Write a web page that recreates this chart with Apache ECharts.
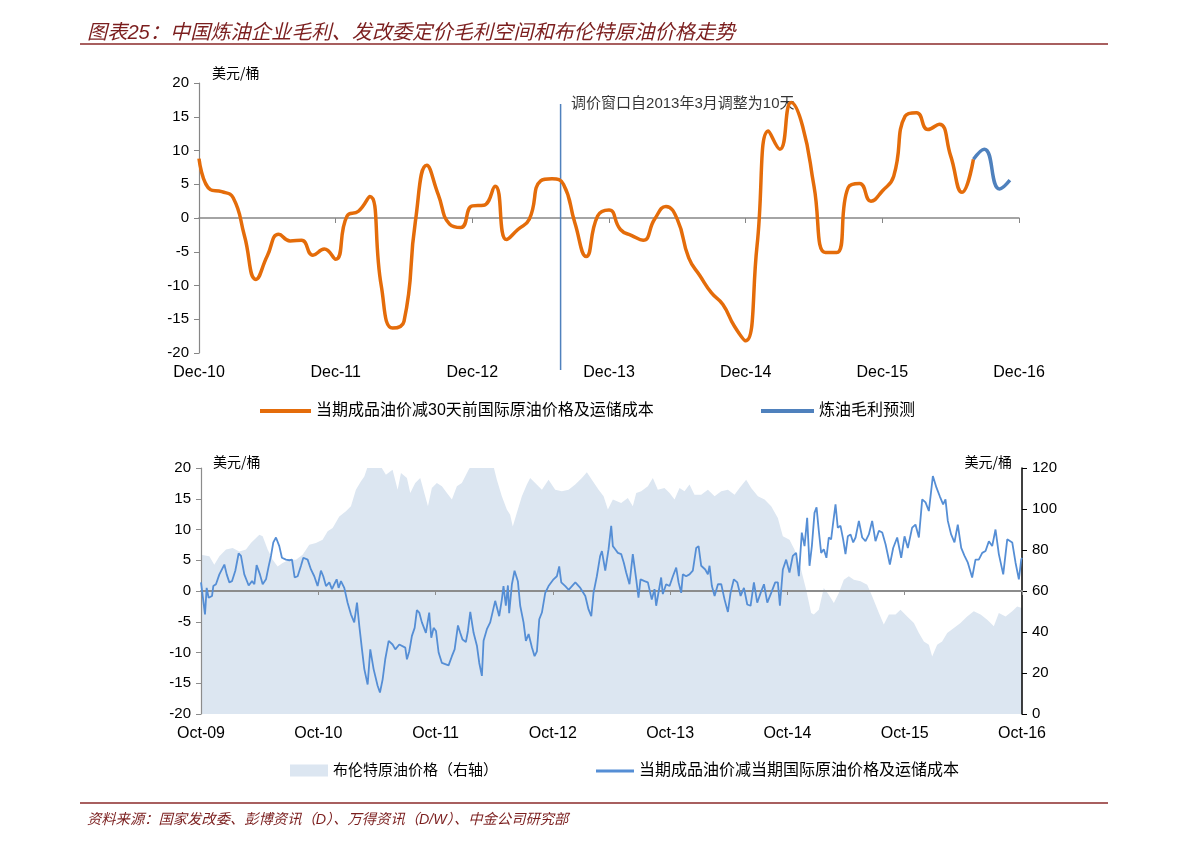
<!DOCTYPE html>
<html><head><meta charset="utf-8">
<script src="https://cdn.jsdelivr.net/npm/echarts@6/dist/echarts.min.js"></script>
<style>html,body{margin:0;padding:0;background:#fff}#c{width:1191px;height:845px}</style>
</head><body><div id="c"></div>
<script>
// ---------- data ----------
const titleText = '图表25：中国炼油企业毛利、发改委定价毛利空间和布伦特原油价格走势';
const sourceText = '资料来源：国家发改委、彭博资讯（D）、万得资讯（D/W）、中金公司研究部';

// top chart: months since Dec-10
const topTickLabels = ['Dec-10','Dec-11','Dec-12','Dec-13','Dec-14','Dec-15','Dec-16'];
const marginName = '当期成品油价减30天前国际原油价格及运储成本';
const marginValues = [8.8, 4.2, 3.9, 3.0, -2.7, -9.1, -5.6, -2.4, -3.4, -3.3, -5.5, -4.6, -6.1,
  0.3, 1.0, 3.2, -10.0, -16.3, -15.3, -0.5, 7.8, 3.5, -0.9, -1.4, 1.8,
  1.9, 4.7, -3.2, -1.7, -0.2, 5.5, 5.8, 5.0, -0.7, -5.7, 0.3, 1.2,
  -1.7, -2.6, -3.3, -0.2, 1.7, -0.2, -5.9, -8.6, -11.1, -12.8, -16.0, -18.2,
  -4.1, 12.9, 10.2, 17.1, 13.6, 4.7, -5.1, -5.1, 4.5, 5.1, 2.5, 4.0,
  6.2, 15.1, 15.6, 13.1, 13.9, 9.2, 3.8, 8.7];
const forecastName = '炼油毛利预测';
const forecastMonths = [68, 68.95, 70.3, 71.2];
const forecastValues = [8.7, 10.2, 4.3, 5.6];
const windowNote = '调价窗口自2013年3月调整为10天';
const windowMonth = 31.75;
const windowSpan = [16.9, -22.5];

// bottom chart: months since Oct-09
const bottomTickLabels = ['Oct-09','Oct-10','Oct-11','Oct-12','Oct-13','Oct-14','Oct-15','Oct-16'];
const spreadName = '当期成品油价减当期国际原油价格及运储成本';
const spreadMonths = [0,0.41,0.58,0.78,1.13,1.26,1.53,1.88,2.39,2.63,2.9,3.17,3.51,3.85,4.09,4.43,4.88,5.22,5.46,5.69,
  6.03,6.31,6.65,6.92,7.16,7.4,7.67,8.01,8.28,8.69,9.04,9.31,9.58,9.89,10.23,10.47,10.91,11.25,11.59,11.93,
  12.27,12.51,12.79,13.13,13.4,13.64,13.88,14.08,14.32,14.66,15,15.34,15.68,15.96,16.2,16.47,16.71,17.05,17.32,17.66,
  18.07,18.31,18.58,18.85,19.2,19.6,19.88,20.29,20.9,21.07,21.31,21.58,21.86,22.09,22.33,22.6,23.01,23.35,23.56,23.8,
  24.04,24.31,24.65,25.33,25.67,25.95,26.29,26.52,26.76,27.1,27.31,27.55,27.89,28.23,28.47,28.74,28.91,29.25,29.59,30.1,
  30.51,30.78,30.95,31.19,31.4,31.53,31.81,32.08,32.42,32.66,33,33.24,33.52,33.86,34.13,34.37,34.61,34.88,35.22,35.56,
  36.07,36.41,36.65,36.86,37.27,37.61,38.3,38.81,39.32,39.65,39.93,40.16,40.5,40.84,41.02,41.36,41.7,41.97,42.14,42.38,
  42.65,42.99,43.26,43.5,43.84,44.18,44.53,44.76,44.97,45.38,45.72,46.12,46.4,46.57,47.08,47.25,47.59,47.94,48.28,48.62,
  48.86,49.13,49.3,49.64,49.98,50.32,50.67,50.91,51.18,51.59,51.86,52.03,52.27,52.55,52.89,53.23,53.57,53.91,54.18,54.52,
  54.87,55.21,55.55,55.89,56.23,56.57,56.91,57.26,57.6,57.94,58.34,58.75,59.02,59.23,59.53,59.87,60.21,60.55,60.89,61.17,
  61.47,61.75,62.02,62.26,62.5,62.77,62.98,63.21,63.45,63.72,63.99,64.23,64.47,64.68,64.92,65.15,65.43,65.7,65.94,66.18,
  66.46,66.73,66.97,67.31,67.65,67.99,68.33,68.67,69.01,69.36,69.7,70.04,70.48,70.82,71.23,71.64,71.98,72.32,72.76,73.1,
  73.45,73.79,74.13,74.47,74.88,75.25,75.59,75.93,76.17,76.41,76.75,77.09,77.43,77.78,78.12,78.46,78.9,79.24,79.58,79.93,
  80.27,80.61,80.95,81.29,81.63,82.08,82.49,83,83.34,83.68,83.92,84];
const spreadValues = [1.4,-3.8,0.5,-1.1,-0.8,0.8,1.1,2.7,4.3,2.7,1.4,1.6,3.3,6.1,5.7,2.7,0.9,1.6,1.1,4.2,
  2.7,1.1,1.9,4.0,5.7,7.9,8.7,7.3,5.4,5.1,5.0,5.1,2.2,2.4,4.1,5.4,5.1,3.5,2.4,0.8,
  3.3,2.4,0.8,1.4,0.3,1.1,1.9,0.5,1.6,0.5,-1.9,-3.8,-5.1,-1.9,-5.7,-9.5,-12.7,-15.2,-9.5,-12.7,
  -15.4,-16.5,-14.4,-11.1,-8.1,-8.7,-9.5,-8.7,-9.2,-11.1,-9.8,-7.3,-6.0,-3.1,-3.5,-5.1,-6.8,-3.5,-7.6,-6.0,
  -6.5,-10.0,-11.7,-12.1,-10.6,-9.5,-5.6,-6.8,-7.9,-8.3,-6.5,-3.4,-6.8,-8.9,-11.7,-13.8,-8.1,-6.2,-5.1,-1.6,
  -4.1,-1.4,0.8,-2.4,0.9,-3.6,1.1,3.3,1.6,-2.4,-5.1,-8.1,-7.0,-9.2,-10.6,-9.8,-4.6,-3.5,-0.3,0.8,
  1.9,2.4,4.0,1.4,0.8,0.2,1.4,0.5,-0.8,-3.0,-4.1,-0.3,2.4,5.7,6.5,3.3,6.8,10.6,7.3,6.8,
  6.2,6.0,4.6,3.0,1.1,6.0,1.9,-1.1,1.9,1.6,1.4,-1.4,0.3,-2.4,2.2,-0.5,1.1,0.8,2.4,3.8,
  1.4,-0.3,2.7,2.4,2.7,3.3,7.0,7.3,4.1,3.5,2.7,4.1,0.8,-0.8,1.1,1.1,-1.4,-3.4,-0.3,1.9,
  1.4,-0.8,0.5,-2.2,-2.4,1.4,-1.9,-0.3,1.1,-1.9,-0.3,1.4,1.4,-2.4,3.5,5.1,3.0,5.7,6.2,2.4,
  9.5,7.3,11.9,4.1,7.3,12.7,13.6,9.8,6.2,6.8,5.4,8.7,8.4,11.1,14.1,10.3,10.6,8.4,6.0,8.9,
  9.2,7.9,8.7,11.4,8.7,8.1,9.2,11.4,8.1,9.8,9.5,7.6,4.3,7.0,8.7,5.4,8.9,7.0,10.3,10.8,
  8.7,14.9,14.4,13.0,18.7,16.8,15.4,14.1,14.9,11.4,9.2,7.9,10.8,7.0,5.7,4.6,2.2,5.1,5.1,6.2,
  6.5,8.1,7.3,10.0,6.0,2.7,8.4,7.9,4.6,1.9,5.1,5.4];
const brentName = '布伦特原油价格（右轴）';
const brentMonths = [0,0.85,1.36,1.88,2.56,3.24,3.92,4.6,5.11,5.63,5.97,6.31,6.82,7.33,7.84,8.35,9.04,9.72,10.4,11.08,
  11.76,12.44,12.96,13.47,14.15,14.83,15.34,15.85,16.37,16.71,17.22,18.24,18.92,19.6,20.12,20.46,21.07,21.41,21.92,22.43,
  22.94,23.22,23.62,24.13,24.65,25.16,25.67,26.18,26.69,27.38,27.89,29.08,29.93,30.27,30.78,31.29,31.63,31.9,32.31,32.83,
  33.34,33.68,34.19,34.88,35.56,36.24,36.92,37.61,38.29,38.97,39.48,39.99,40.68,41.19,41.63,42.14,42.99,43.67,44.18,44.53,
  45.04,45.72,46.23,46.74,47.42,47.94,48.45,48.96,49.47,49.98,50.49,51.18,51.86,52.55,53.23,53.91,54.59,55.1,55.78,56.29,
  56.98,57.66,58.34,59.02,59.53,60.21,60.72,61.4,61.91,62.43,62.7,63.21,63.72,64.23,64.75,65.26,65.77,66.28,66.79,67.48,
  68.16,68.67,69.36,69.86,70.38,71.06,71.57,72.25,72.94,73.45,73.96,74.47,74.81,75.32,75.83,76.35,77.03,77.71,78.39,79.07,
  79.76,80.44,81.12,81.63,82.32,83,83.51,84];
const brentValues = [77.7,76.9,72.8,76.9,80.2,81.0,79.3,80.2,83.4,85.9,87.5,86.7,80.2,75.3,72.0,73.7,75.3,75.3,77.7,82.6,
  83.4,85.0,89.1,90.7,96.4,98.9,101.3,109.4,113.5,115.9,123,122,116.7,119.2,109.4,117.6,115.1,107.8,112.7,115.1,
  106.2,101.3,110.2,112.7,111.1,107.8,104.6,111.1,112.7,119.2,123,124,120.8,114.3,106.2,99.7,97.2,91.5,98.0,106.2,
  111.9,115.1,112.7,109.4,114.3,109.4,108.6,109.4,111.9,115.1,117.9,114.3,109.4,106.2,99.7,104.6,102.9,105.4,101.3,107.8,
  108.6,111.1,115.1,109.4,110.2,107.8,104.6,110.2,108.6,111.9,107.0,107.0,109.4,106.2,108.6,109.4,107.0,110.2,114.3,110.2,
  106.2,104.6,101.3,95.6,86.7,85.0,80.2,70.4,60.7,49.3,48.5,50.9,61.5,58.2,54.1,59.0,65.5,67.2,65.5,64.7,
  63.1,57.4,49.3,43.6,48.5,48.5,50.9,47.6,44.4,39.5,35.4,33.8,28.1,33.8,35.4,39.5,42.0,44.4,47.6,50.1,
  48.5,46.0,42.8,49.3,47.6,50.1,52.5,51.7];

// ---------- chart ----------
const NUM = "'Liberation Sans', 'Noto Sans CJK SC', sans-serif";
const CJK = "'Noto Sans CJK SC', sans-serif";
const MIX = "'Liberation Sans', 'Noto Sans CJK SC', sans-serif";
const pair = (xs, ys) => xs.map((x, i) => [x, ys[i]]);

const chart = echarts.init(document.getElementById('c'), null, {renderer: 'canvas'});
const option = {
  animation: false,
  backgroundColor: '#fff',
  title: [
    {text: titleText, left: 82, top: 18,
     textStyle: {fontFamily: MIX, fontSize: 20.2, fontWeight: 'normal', fontStyle: 'italic', color: '#7B1E1E'}},
    {text: sourceText, left: 82, top: 808,
     textStyle: {fontFamily: MIX, fontSize: 14.3, fontWeight: 'normal', fontStyle: 'italic', color: '#7B1E1E'}}
  ],
  graphic: [
    {type: 'line', shape: {x1: 80, y1: 44, x2: 1108, y2: 44}, style: {stroke: '#8B2A2A', lineWidth: 1.5}},
    {type: 'line', shape: {x1: 80, y1: 803, x2: 1108, y2: 803}, style: {stroke: '#8B2A2A', lineWidth: 1.5}}
  ],
  legend: [
    {data: [marginName], left: 255, top: 398, icon: 'rect', itemWidth: 51, itemHeight: 4,
     textStyle: {fontFamily: MIX, fontSize: 16, color: '#000'}},
    {data: [forecastName], left: 756, top: 398, icon: 'rect', itemWidth: 53, itemHeight: 4,
     textStyle: {fontFamily: MIX, fontSize: 16, color: '#000'}},
    {data: [brentName], left: 285, top: 758, icon: 'rect', itemWidth: 38, itemHeight: 12,
     textStyle: {fontFamily: MIX, fontSize: 15, color: '#000'}},
    {data: [spreadName], left: 591, top: 758, icon: 'rect', itemWidth: 38, itemHeight: 3,
     textStyle: {fontFamily: MIX, fontSize: 16, color: '#000'}}
  ],
  grid: [
    {left: 199, top: 83, width: 820, height: 270},
    {left: 201, top: 468, width: 821, height: 246}
  ],
  xAxis: [
    {gridIndex: 0, type: 'value', min: 0, max: 72, interval: 12, position: 'bottom',
     axisLine: {show: false, onZero: false}, axisTick: {show: false}, splitLine: {show: false},
     axisLabel: {formatter: v => topTickLabels[v / 12], fontFamily: NUM, fontSize: 16, color: '#000', margin: 12}},
    {gridIndex: 0, type: 'value', min: 0, max: 72, interval: 12, position: 'bottom',
     axisLine: {show: true, onZero: true, onZeroAxisIndex: 0, lineStyle: {color: '#868686', width: 1.5}},
     axisTick: {show: true, length: 5, lineStyle: {color: '#868686'}}, axisLabel: {show: false}, splitLine: {show: false}},
    {gridIndex: 1, type: 'value', min: 0, max: 84, interval: 12, position: 'bottom',
     axisLine: {show: false, onZero: false}, axisTick: {show: false}, splitLine: {show: false},
     axisLabel: {formatter: v => bottomTickLabels[v / 12], fontFamily: NUM, fontSize: 16, color: '#000', margin: 12}},
    {gridIndex: 1, type: 'value', min: 0, max: 84, interval: 12, position: 'bottom', z: 2,
     axisLine: {show: true, onZero: true, onZeroAxisIndex: 1, lineStyle: {color: '#8C8C8C', width: 2}},
     axisTick: {show: true, length: 4, lineStyle: {color: '#8C8C8C'}}, axisLabel: {show: false}, splitLine: {show: false}}
  ],
  yAxis: [
    {gridIndex: 0, type: 'value', min: -20, max: 20, interval: 5, position: 'left',
     axisLine: {show: true, onZero: false, lineStyle: {color: '#868686', width: 1.2}},
     axisTick: {show: true, length: 5, lineStyle: {color: '#868686'}}, splitLine: {show: false},
     axisLabel: {fontFamily: NUM, fontSize: 15, color: '#000', margin: 10},
     name: '美元/桶', nameLocation: 'end', nameGap: 10,
     nameTextStyle: {fontFamily: CJK, fontSize: 14, color: '#000', align: 'left', verticalAlign: 'middle', padding: [0, 0, 0, 13]}},
    {gridIndex: 1, type: 'value', min: -20, max: 20, interval: 5, position: 'left', z: 2,
     axisLine: {show: true, onZero: false, lineStyle: {color: '#8C8C8C', width: 1.2}},
     axisTick: {show: true, length: 5, lineStyle: {color: '#8C8C8C'}}, splitLine: {show: false},
     axisLabel: {fontFamily: NUM, fontSize: 15, color: '#000', margin: 10},
     name: '美元/桶', nameLocation: 'end', nameGap: 6,
     nameTextStyle: {fontFamily: CJK, fontSize: 14, color: '#000', align: 'left', verticalAlign: 'middle', padding: [0, 0, 0, 12]}},
    {gridIndex: 1, type: 'value', min: 0, max: 120, interval: 20, position: 'right', z: 2,
     axisLine: {show: true, onZero: false, lineStyle: {color: '#000', width: 1.5}},
     axisTick: {show: true, length: 5, lineStyle: {color: '#000'}}, splitLine: {show: false},
     axisLabel: {fontFamily: NUM, fontSize: 15, color: '#000', margin: 10},
     name: '美元/桶', nameLocation: 'end', nameGap: 6,
     nameTextStyle: {fontFamily: CJK, fontSize: 14, color: '#000', align: 'right', verticalAlign: 'middle', padding: [0, 10, 0, 0]}}
  ],
  series: [
    {name: marginName, type: 'line', xAxisIndex: 0, yAxisIndex: 0, smooth: true, symbol: 'none',
     data: marginValues.map((v, i) => [i, v]), color: '#E46C0A',
     lineStyle: {color: '#E46C0A', width: 3.5}, z: 3},
    {name: forecastName, type: 'line', xAxisIndex: 0, yAxisIndex: 0, smooth: true, symbol: 'none',
     data: pair(forecastMonths, forecastValues), color: '#4F81BD',
     lineStyle: {color: '#4F81BD', width: 3.5}, z: 4},
    {name: 'window', type: 'line', xAxisIndex: 0, yAxisIndex: 0, symbol: 'none', clip: false, silent: true,
     data: windowSpan.map(v => [windowMonth, v]), lineStyle: {color: '#4F81BD', width: 1.5}, z: 2},
    {name: 'note', type: 'scatter', xAxisIndex: 0, yAxisIndex: 0, symbolSize: 1, clip: false, silent: true,
     itemStyle: {color: 'rgba(0,0,0,0)'},
     data: [[windowMonth, windowSpan[0]]],
     label: {show: true, position: 'right', distance: 10, formatter: windowNote,
             fontFamily: MIX, fontSize: 15, color: '#000'}},
    {name: brentName, type: 'line', xAxisIndex: 2, yAxisIndex: 2, symbol: 'none',
     data: pair(brentMonths, brentValues), color: '#DCE6F1',
     lineStyle: {width: 0, color: '#DCE6F1'}, areaStyle: {color: '#DCE6F1', opacity: 1}, z: 1},
    {name: spreadName, type: 'line', xAxisIndex: 2, yAxisIndex: 1, symbol: 'none',
     data: pair(spreadMonths, spreadValues), color: '#558ED5',
     lineStyle: {color: '#558ED5', width: 1.8}, z: 3}
  ]
};
chart.setOption(option);
</script>
</body></html>
